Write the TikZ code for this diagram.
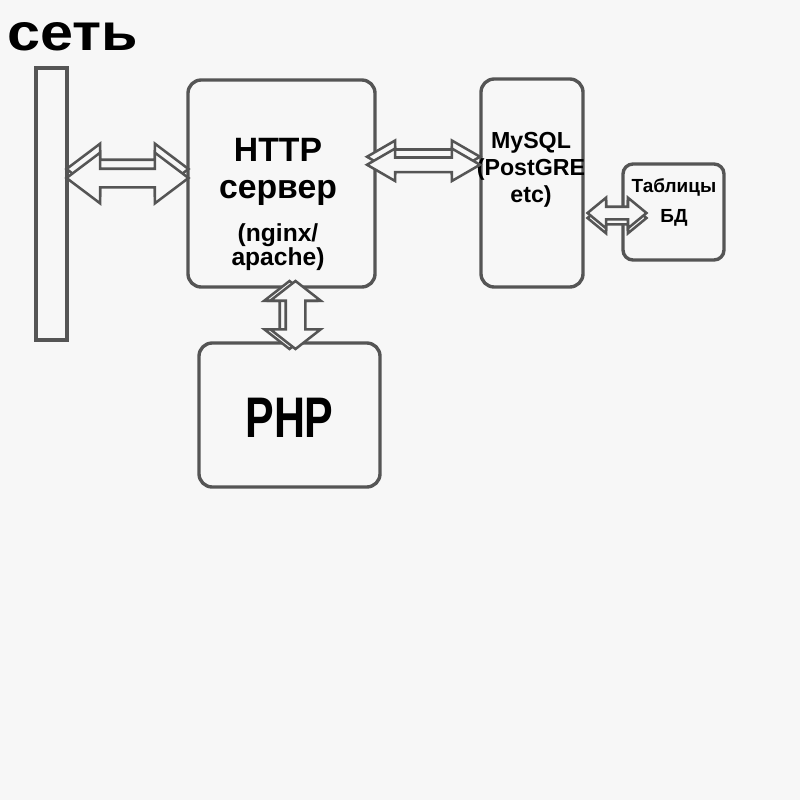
\documentclass[tikz,border=0pt]{standalone}
\usepackage{fontspec}
\setmainfont{Liberation Sans}
\definecolor{bgpaper}{HTML}{F7F7F7}
\definecolor{linegray}{HTML}{555555}
\usetikzlibrary{shapes.arrows,calc}

\begin{document}
\begin{tikzpicture}[font=\bfseries,
    box/.style={draw=linegray,line width=2.4pt,rounded corners=0.33cm,
                fill=bgpaper},
    dblarr/.style={double arrow,draw=linegray,line width=1.8pt,
                   fill=bgpaper,inner xsep=0pt,minimum width=#1},
    txt/.style={anchor=base,align=center,inner sep=0pt}]
  \fill[bgpaper] (0,0) rectangle (20,-20);
  \useasboundingbox (0,0) rectangle (20,-20);

  % network
  \node[anchor=base west,inner sep=0pt,font=\bfseries\fontsize{37}{40}\selectfont,
        xscale=1.14,transform shape] (net) at (0.17,-1.25) {сеть};
  \node[draw=linegray,line width=2.4pt,fill=bgpaper,minimum width=0.775cm,
        minimum height=6.8cm] (bar) at (1.2875,-5.1) {};

  % boxes
  \node[box,minimum width=4.675cm,minimum height=5.175cm] (http) at (7.0375,-4.5875) {};
  \node[box,minimum width=2.55cm,minimum height=5.2cm] (db) at (13.3,-4.575) {};
  \node[box,minimum width=2.525cm,minimum height=2.4cm,rounded corners=0.25cm]
        (tbl) at (16.8375,-5.3) {};
  \node[box,minimum width=4.525cm,minimum height=3.6cm] (php) at (7.2375,-10.375) {};

  % texts
  \node[txt,font=\bfseries\fontsize{24}{26.3}\selectfont] (httpname)
        at (6.95,-4.95) {HTTP\\сервер};
  \node[txt,font=\bfseries\fontsize{17.5}{17}\selectfont] (httpsub)
        at (6.95,-6.625) {(nginx/\\apache)};
  \node[txt,font=\bfseries\fontsize{16.5}{19.2}\selectfont] (dbname)
        at (13.275,-5.05) {MySQL\\(PostGRE\\etc)};
  \node[txt,font=\bfseries\fontsize{13.5}{21}\selectfont] (tblname)
        at (16.85,-5.55) {Таблицы\\БД};
  \node[txt,font=\bfseries\fontsize{40.7}{44}\selectfont,xscale=0.75,transform shape]
        (phpname) at (7.2375,-10.925) {PHP};

  % arrows (each one twice, the shifted copy gives the raised edge)
  \node[dblarr=1.2cm,minimum height=3.05cm,inner ysep=0.2cm,
        double arrow head extend=0.4cm,double arrow tip angle=74,
        yshift=0.225cm] (a1b)
        at ($(bar.east |- http.west)!.5!(http.west)+(0,0.1375)$) {};
  \node[dblarr=1.2cm,minimum height=3.05cm,inner ysep=0.2cm,
        double arrow head extend=0.4cm,double arrow tip angle=74] (a1)
        at ($(bar.east |- http.west)!.5!(http.west)+(0,0.1375)$) {};

  \node[dblarr=0.75cm,minimum height=2.825cm,inner ysep=0.15cm,
        double arrow head extend=0.225cm,double arrow tip angle=60,
        yshift=0.2cm] (a2b)
        at ($(http.east)!.5!(db.west)+(-0.1125,0.4625)$) {};
  \node[dblarr=0.75cm,minimum height=2.825cm,inner ysep=0.15cm,
        double arrow head extend=0.225cm,double arrow tip angle=60] (a2)
        at ($(http.east)!.5!(db.west)+(-0.1125,0.4625)$) {};

  \node[dblarr=0.7cm,minimum height=1.475cm,inner ysep=0.125cm,
        double arrow head extend=0.225cm,double arrow tip angle=79,
        yshift=-0.125cm] (a3b)
        at ($(db.east |- tbl.west)!.5!(tbl.west)+(0.35,-0.025)$) {};
  \node[dblarr=0.7cm,minimum height=1.475cm,inner ysep=0.125cm,
        double arrow head extend=0.225cm,double arrow tip angle=79] (a3)
        at ($(db.east |- tbl.west)!.5!(tbl.west)+(0.35,-0.025)$) {};

  \node[dblarr=1.2cm,minimum height=1.7cm,inner ysep=0.2125cm,
        double arrow head extend=0.3875cm,double arrow tip angle=104,
        rotate=90,yshift=0.15cm] (a4b)
        at ($(http.south)!.5!(php.north)+(0.25,0)$) {};
  \node[dblarr=1.2cm,minimum height=1.7cm,inner ysep=0.2125cm,
        double arrow head extend=0.3875cm,double arrow tip angle=104,
        rotate=90] (a4)
        at ($(http.south)!.5!(php.north)+(0.25,0)$) {};
\end{tikzpicture}
\end{document}
